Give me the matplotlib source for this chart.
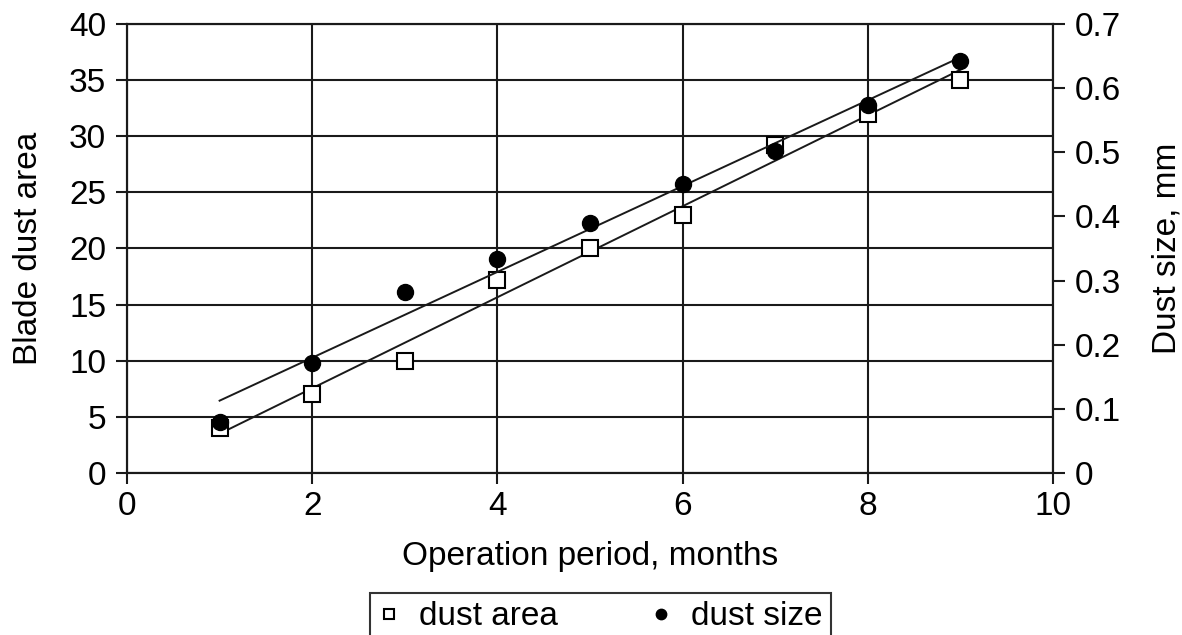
import numpy as np
import matplotlib
matplotlib.use("Agg")
import matplotlib.pyplot as plt
from matplotlib.ticker import FixedLocator, FixedFormatter

plt.rcParams['font.family'] = ['Liberation Sans', 'DejaVu Sans']

months = [1, 2, 3, 4, 5, 6, 7, 8, 9]
dust_area = [4.0, 7.0, 10.0, 17.2, 20.0, 23.0, 29.2, 32.0, 35.0]
dust_size = [0.079, 0.172, 0.282, 0.333, 0.390, 0.450, 0.502, 0.574, 0.642]

x_ticks = [0, 2, 4, 6, 8, 10]
left_ticks = [0, 5, 10, 15, 20, 25, 30, 35, 40]
right_ticks = [0, 0.1, 0.2, 0.3, 0.4, 0.5, 0.6, 0.7]
right_labels = ["0", "0.1", "0.2", "0.3", "0.4", "0.5", "0.6", "0.7"]

fs = 24
fig = plt.figure(figsize=(11.82, 6.35), dpi=100)
ax = fig.add_axes([127/1182, 1 - 473/635, (1053-127)/1182, (473-24)/635])
ax2 = ax.twinx()

ax.set_xlim(0, 10)
ax.set_ylim(0, 40)
ax2.set_ylim(0, 0.7)

ax.set_xticks(x_ticks)
ax.set_yticks(left_ticks)
ax2.yaxis.set_major_locator(FixedLocator(right_ticks))
ax2.yaxis.set_major_formatter(FixedFormatter(right_labels))

ax.grid(True, color='#1a1a1a', linewidth=1.5)
ax.set_axisbelow(True)
for a in (ax, ax2):
    for s in a.spines.values():
        s.set_linewidth(1.5)
        s.set_color('#1a1a1a')
ax.tick_params(axis='y', direction='out', length=8, width=1.5, labelsize=fs, colors='#1a1a1a', pad=7)
ax.tick_params(axis='x', direction='out', length=8, width=1.5, labelsize=fs, colors='#1a1a1a', pad=5)
ax2.tick_params(axis='y', direction='out', length=8.5, width=1.5, labelsize=fs, colors='#1a1a1a', pad=7)
for lab in ax.get_xticklabels() + ax.get_yticklabels() + ax2.get_yticklabels():
    lab.set_color('black')

xs = np.array(months, dtype=float)
pa = np.polyfit(xs, dust_area, 1)
ps = np.polyfit(xs, dust_size, 1)
xl = np.array([months[0], months[-1]], dtype=float)
ax.plot(xl, np.polyval(pa, xl), color='#1a1a1a', linewidth=1.4, zorder=3)
ax2.plot(xl, np.polyval(ps, xl), color='#1a1a1a', linewidth=1.4, zorder=3)

h1, = ax.plot(months, dust_area, linestyle='none', marker='s', markersize=11,
              markerfacecolor='white', markeredgecolor='black', markeredgewidth=1.5,
              zorder=4, label='dust area')
h2, = ax2.plot(months, dust_size, linestyle='none', marker='o', markersize=11.5,
               markerfacecolor='black', markeredgecolor='black', zorder=4, label='dust size')

ax.set_xlabel('Operation period, months', fontsize=fs, labelpad=14)
ax.set_ylabel('Blade dust area', fontsize=fs, labelpad=18)
ax2.set_ylabel('Dust size, mm', fontsize=fs, labelpad=22)

leg = fig.legend(handles=[h1, h2], loc='upper center', bbox_to_anchor=(0.508, 1 - 593/635),
                 ncol=2, fontsize=fs, frameon=True, fancybox=False, edgecolor='black',
                 handlelength=0.6, handletextpad=0.6, columnspacing=2.8, borderpad=0.25,
                 markerscale=0.65, borderaxespad=0)
leg.get_frame().set_linewidth(1.5)

fig.savefig('out.png', dpi=100)
